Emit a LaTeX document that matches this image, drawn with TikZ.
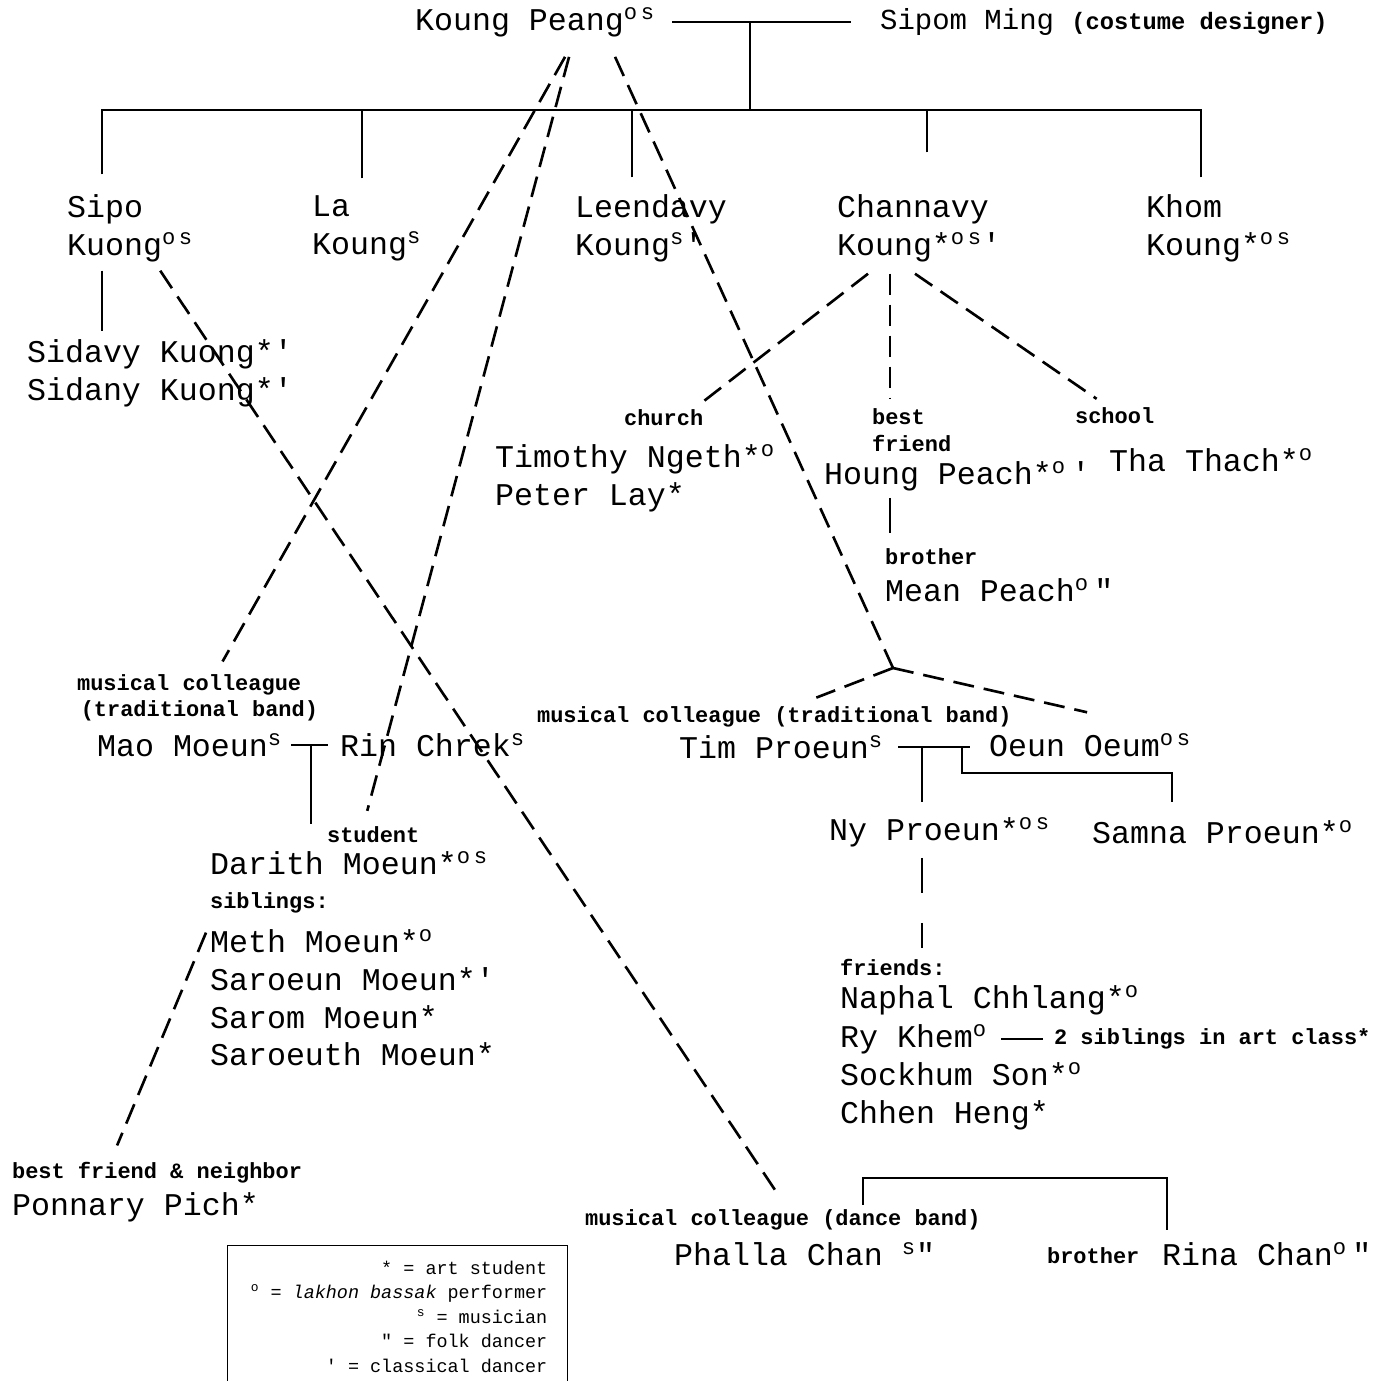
\documentclass[tikz,border=0pt]{standalone}
\usepackage{fontspec}
\setmainfont{Liberation Mono}
\newfontfamily\tagfont{Liberation Mono}
\usetikzlibrary{positioning, calc}
\newcommand{\rolemark}[1]{\textsuperscript{#1}}

\begin{document}
\begin{tikzpicture}[
    x=0.02cm, y=-0.02cm,
    person/.style={anchor=west, inner sep=1pt, align=left, font=\fontsize{18}{21.5}\selectfont},
    note/.style={anchor=west, inner sep=1pt, align=left, font=\tagfont\bfseries\fontsize{12.5}{15}\selectfont},
    kinline/.style={line width=1.2pt},
    tieline/.style={line width=1.5pt, dash pattern=on 0.42cm off 0.2cm},
    legendbox/.style={draw, line width=0.8pt, anchor=north east, align=flush right, text width=6.0cm, inner xsep=0.4cm, inner ysep=0.3cm, font=\fontsize{10.5}{14}\selectfont}
  ]
  \useasboundingbox (0,0) rectangle (1392,1380);

  % Pais
  \node[person] (peang) at (413,22) {Koung Peang\rolemark{o\,s}};
  \node[person, font=\fontsize{16.5}{20}\selectfont] (sipom) at (878,22) {Sipom Ming {\tagfont\bfseries\fontsize{13.5}{16}\selectfont(costume designer)}};

  % Filhos
  \node[person] (sipo) at (65,228) {Sipo\\Kuong\rolemark{o\,s}};
  \node[person] (la) at (310,228) {La\\Koung\rolemark{s}};
  \node[person] (leen) at (573,228) {Leendavy\\Koung\rolemark{s}\textquotesingle};
  \node[person] (chan) at (835,228) {Channavy\\Koung*\rolemark{o\,s}\textquotesingle};
  \node[person] (khom) at (1144,228) {Khom\\Koung*\rolemark{o\,s}};
  \node[person] (sidkids) at (25,373) {Sidavy Kuong*\textquotesingle\\Sidany Kuong*\textquotesingle};

  % Amigos de Channavy
  \node[note] (church) at (622,418) {church};
  \node[note] (bestf) at (870,430) {best\\friend};
  \node[note] (school) at (1073,416) {school};
  \node[person] (timothy) at (493,478) {Timothy Ngeth*\rolemark{o}\\Peter Lay*};
  \node[person] (houng) at (822,476) {Houng Peach*\rolemark{o}\,\textquotesingle};
  \node[person] (tha) at (1107,460) {Tha Thach*\rolemark{o}};
  \node[note] (brother1) at (883,557) {brother};
  \node[person] (mean) at (883,590) {Mean Peach\rolemark{o}\,\textquotedbl};

  % Familia Moeun
  \node[note] (mcolA) at (75,698) {musical colleague\\\,(traditional band)};
  \node[person] (mao) at (95,745) {Mao Moeun\rolemark{s}};
  \node[person] (rin) at (338,745) {Rin Chrek\rolemark{s}};
  \node[note] (student) at (325,835) {student};
  \node[person] (darith) at (208,863) {Darith Moeun*\rolemark{o\,s}};
  \node[note] (sibl) at (208,903) {siblings:};
  \node[person] (sibs) at (208,998) {Meth Moeun*\rolemark{o}\\Saroeun Moeun*\textquotesingle\\Sarom Moeun*\\Saroeuth Moeun*};
  \node[note] (bfn) at (10,1173) {best friend \& neighbor};
  \node[person] (ponnary) at (10,1207) {Ponnary Pich*};

  % Familia Proeun
  \node[note] (mcolB) at (535,717) {musical colleague (traditional band)};
  \node[person] (tim) at (677,747) {Tim Proeun\rolemark{s}};
  \node[person] (oeun) at (987,745) {Oeun Oeum\rolemark{o\,s}};
  \node[person] (ny) at (827,832) {Ny Proeun*\rolemark{o\,s}};
  \node[person] (samna) at (1090,832) {Samna Proeun*\rolemark{o}};
  \node[note] (friends) at (838,967) {friends:};
  \node[person] (naphal) at (838,1000) {Naphal Chhlang*\rolemark{o}};
  \node[person] (ry) at (838,1039) {Ry Khem\rolemark{o}};
  \node[note] (rysibs) at (1052,1039) {2 siblings in art class*};
  \node[person] (sockhum) at (838,1096) {Sockhum Son*\rolemark{o}\\Chhen Heng*};

  % Familia Chan
  \node[note] (mcolC) at (583,1220) {musical colleague (dance band)};
  \node[person] (phalla) at (672,1254) {Phalla Chan \rolemark{s}\textquotedbl};
  \node[note] (brother2) at (1045,1256) {brother};
  \node[person] (rina) at (1160,1254) {Rina Chan\rolemark{o}\,\textquotedbl};

  % Legenda
  \node[legendbox] (legend) at (568,1245) {* = art student\\\rolemark{o} = {\itshape lakhon bassak} performer\\\rolemark{s} = musician\\\textquotedbl{} = folk dancer\\\textquotesingle{} = classical dancer};

  % Parentesco
  \draw[kinline, shorten <=0.3cm, shorten >=0.55cm] (peang.east) -- (peang.east -| sipom.west);
  \coordinate (wed) at ($(peang.east)!0.42!(peang.east -| sipom.west)$);
  \coordinate (bar) at (745,110);
  \draw[kinline] (wed) -- (wed |- bar);
  \foreach \kid/\dx/\gap in {sipo/37/18, la/52/15, leen/59/15, chan/92/40, khom/57/15}
    \draw[kinline] ($(\kid.north west)+(\dx,-\gap)$) |- (bar);
  \draw[kinline, shorten >=0.12cm] ($(sipo.south west)+(37,7)$) coordinate (s1) -- (s1 |- sidkids.north);
  \draw[kinline, shorten >=0.28cm] ($(houng.south west)+(68,5)$) coordinate (h1) -- (h1 |- brother1.north);
  \draw[kinline, shorten <=0.14cm, shorten >=0.2cm] (mao.east) -- (mao.east -| rin.west);
  \coordinate (mr) at ($(mao.east)!0.5!(mao.east -| rin.west)$);
  \draw[kinline, shorten >=0.5cm] (mr) -- (mr |- darith.north);
  \draw[kinline, shorten <=0.26cm, shorten >=0.34cm] (tim.east) -- (tim.east -| oeun.west);
  \coordinate (n1) at ($(ny.north west)+(95,-13)$);
  \draw[kinline] (n1 |- tim.east) -- (n1);
  \draw[kinline] ($(tim.east -| oeun.west)+(-25,0)$) -- ++(0,26) -| ($(samna.north west)+(82,-16)$);
  \draw[kinline, shorten <=0.24cm, shorten >=0.18cm] (ry.east) -- (ry.east -| rysibs.west);
  \draw[kinline] ($(mcolC.north west)+(280,-3)$) -- ++(0,-27) -| ($(rina.north west)+(7,-10)$);

  % Relacoes
  \draw[tieline] ($(peang.south)+(30,18)$) -- ($(mcolA.north)+(25,-11)$);
  \draw[tieline] ($(peang.south)+(34,18)$) -- ($(student.north)+(-6,-14)$);
  \coordinate (tpjoin) at (893,668);
  \draw[tieline] ($(peang.south)+(80,18)$) -- (tpjoin);
  \draw[tieline] (tpjoin) -- ($(mcolB.north)+(42,-7)$);
  \draw[tieline] (tpjoin) -- ($(oeun.north)+(-3,-19)$);
  \draw[tieline] ($(sipo.south east)+(-35,7)$) -- ($(mcolC.north)+(-8,-18)$);
  \coordinate (b1) at ($(bestf.north west)+(20,-8)$);
  \draw[tieline] ($(chan.south -| b1)+(-22,10)$) -- ($(church.north east)+(-5,-4)$);
  \draw[tieline] ($(chan.south -| b1)+(0,10)$) -- (b1);
  \draw[tieline] ($(chan.south -| b1)+(25,10)$) -- ($(school.north)+(-18,-7)$);
  \draw[tieline] ($(sibs.north west)+(-2,5)$) -- ($(bfn.north)+(-40,-15)$);
  \draw[tieline, dash pattern=on 0.7cm off 0.6cm] ($(ny.south -| n1)+(0,9)$) -- ($(n1 |- friends.north)+(0,-9)$);
\end{tikzpicture}
\end{document}
